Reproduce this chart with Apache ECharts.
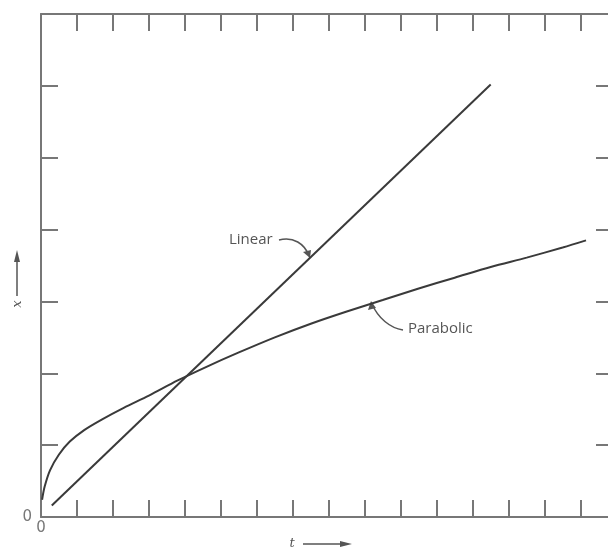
<!DOCTYPE html>
<html><head><meta charset="utf-8">
<script src="https://cdn.jsdelivr.net/npm/echarts@6/dist/echarts.min.js"></script>
<style>html,body{margin:0;padding:0;background:#fff}#c{width:608px;height:549px}</style>
</head><body><div id="c"></div>
<script>
// Data (t on horizontal axis, x on vertical axis)
const linearT = [0.3, 12.5];
const linearX = [0.16, 6.02];
const parabolicT = [0.03, 0.1, 0.25, 0.5, 0.8, 1.2, 1.7, 2.3, 3.0, 3.8, 4.6, 5.5, 6.5, 7.5, 8.5, 9.5, 10.5, 11.5, 12.5, 13.5, 14.5, 15.15];
const parabolicX = [0.24, 0.42, 0.65, 0.87, 1.05, 1.21, 1.36, 1.52, 1.69, 1.9, 2.09, 2.29, 2.5, 2.69, 2.86, 3.02, 3.18, 3.33, 3.48, 3.61, 3.75, 3.85];
const seriesNames = ['Linear', 'Parabolic'];
const xAxisTitle = 't';
const yAxisTitle = 'x';
const originLabel = '0';

const frame = '#777';
const ink = '#3a3a3a';
const axisBase = {
  type: 'value', interval: 1, splitLine: {show: false},
  axisLine: {show: true, onZero: false, lineStyle: {color: frame, width: 2}},
  axisTick: {show: true, inside: true, length: 17, lineStyle: {color: frame, width: 2}}
};
const chart = echarts.init(document.getElementById('c'));
chart.setOption({
  animation: false,
  backgroundColor: '#fff',
  grid: {left: 41, top: 14, width: 572, height: 503, containLabel: false, outerBoundsMode: 'none'},
  xAxis: [
    Object.assign({}, axisBase, {position: 'bottom', min: 0, max: 15.9,
      axisLabel: {show: true, margin: 4, color: frame, fontSize: 15, fontFamily: 'DejaVu Sans',
        formatter: v => (v === 0 ? originLabel : '')}}),
    Object.assign({}, axisBase, {position: 'top', min: 0, max: 15.9, axisLabel: {show: false}})
  ],
  yAxis: [
    Object.assign({}, axisBase, {position: 'left', min: 0, max: 7,
      axisLabel: {show: true, margin: 9, color: frame, fontSize: 15, fontFamily: 'DejaVu Sans',
        formatter: v => (v === 0 ? originLabel : '')}}),
    Object.assign({}, axisBase, {position: 'right', min: 0, max: 7, axisLabel: {show: false}})
  ],
  series: [
    {name: seriesNames[0], type: 'line', symbol: 'none', smooth: false,
     lineStyle: {color: ink, width: 2}, data: linearT.map((t, i) => [t, linearX[i]])},
    {name: seriesNames[1], type: 'line', symbol: 'none', smooth: 0.3,
     lineStyle: {color: ink, width: 2}, data: parabolicT.map((t, i) => [t, parabolicX[i]])}
  ],
  graphic: [
    {type: 'text', left: 229, top: 232, style: {text: seriesNames[0], fill: '#555', font: '15px "Open Sans"'}},
    {type: 'bezierCurve', shape: {x1: 279, y1: 240, cpx1: 293, cpy1: 236, cpx2: 305, cpy2: 244, x2: 309, y2: 256},
     style: {stroke: '#555', lineWidth: 1.5, fill: null}},
    {type: 'polygon', shape: {points: [[310, 258], [303, 252], [311, 250]]}, style: {fill: '#555'}},
    {type: 'text', left: 408, top: 321, style: {text: seriesNames[1], fill: '#555', font: '15px "Open Sans"'}},
    {type: 'bezierCurve', shape: {x1: 403, y1: 330, cpx1: 390, cpy1: 328, cpx2: 378, cpy2: 318, x2: 372, y2: 304},
     style: {stroke: '#555', lineWidth: 1.5, fill: null}},
    {type: 'polygon', shape: {points: [[371, 301], [368, 310], [376, 308]]}, style: {fill: '#555'}},
    // vertical axis title with arrow
    {type: 'text', x: 18, y: 304, rotation: Math.PI / 2,
     style: {text: yAxisTitle, fill: '#555', font: 'italic 13px "DejaVu Serif"', align: 'center', verticalAlign: 'middle'}},
    {type: 'line', shape: {x1: 17, y1: 296, x2: 17, y2: 258}, style: {stroke: '#555', lineWidth: 1.5}},
    {type: 'polygon', shape: {points: [[17, 250], [14, 262], [20, 262]]}, style: {fill: '#555'}},
    // horizontal axis title with arrow
    {type: 'text', x: 292, y: 544,
     style: {text: xAxisTitle, fill: '#555', font: 'italic 13px "DejaVu Serif"', align: 'center', verticalAlign: 'middle'}},
    {type: 'line', shape: {x1: 303, y1: 544, x2: 342, y2: 544}, style: {stroke: '#555', lineWidth: 1.5}},
    {type: 'polygon', shape: {points: [[352, 544], [340, 541], [340, 547]]}, style: {fill: '#555'}}
  ]
});
</script></body></html>
